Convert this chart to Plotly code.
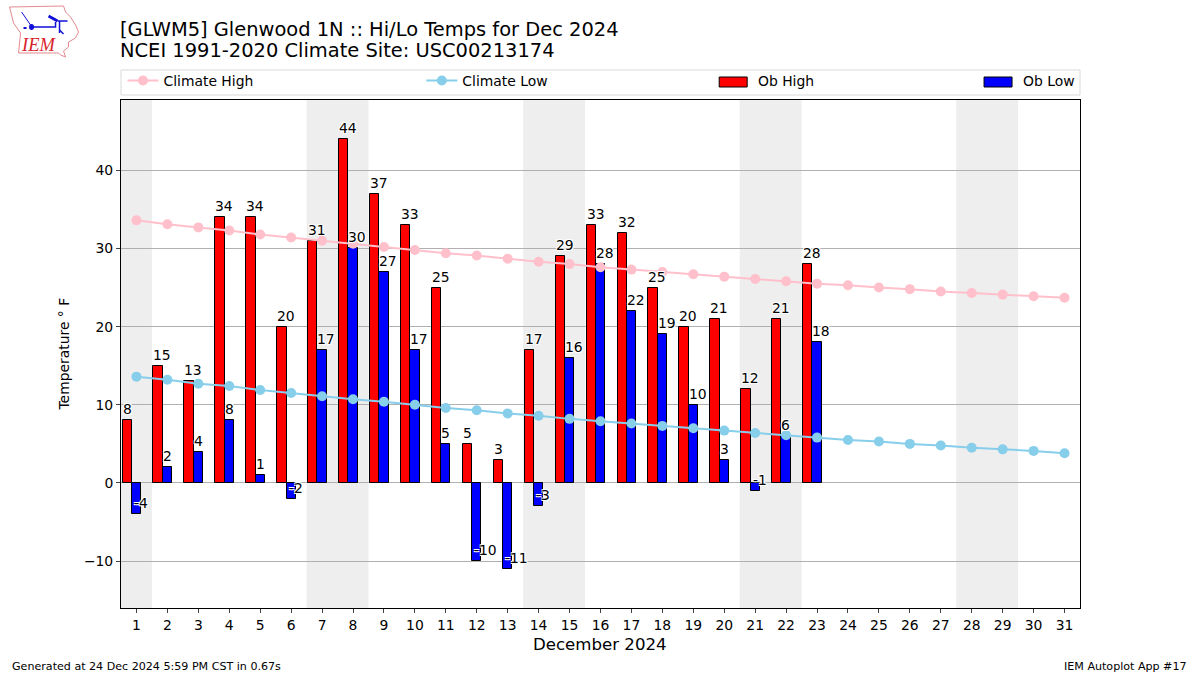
import plotly.graph_objects as go

W, H = 1200, 675
L, R, T, B = 120.5, 1080, 100, 608

days = list(range(1, 32))
climate_high = [33.6,33.1,32.7,32.3,31.8,31.4,31.0,30.6,30.2,29.8,29.4,29.1,28.7,28.3,28.0,27.6,27.3,27.0,26.7,26.4,26.1,25.8,25.5,25.3,25.0,24.8,24.5,24.3,24.1,23.9,23.7]
climate_low = [13.6,13.2,12.7,12.4,11.9,11.5,11.1,10.7,10.4,10.0,9.6,9.3,8.9,8.6,8.2,7.9,7.6,7.3,7.0,6.7,6.4,6.1,5.8,5.5,5.3,5.0,4.8,4.5,4.3,4.1,3.8]
ob_days = list(range(1, 24))
ob_high = [8,15,13,34,34,20,31,44,37,33,25,5,3,17,29,33,32,25,20,21,12,21,28]
ob_low = [-4,2,4,8,1,-2,17,30,27,17,5,-10,-11,-3,16,28,22,19,10,3,-1,6,18]
weekends = [(0.5,1.5),(6.5,8.5),(13.5,15.5),(20.5,22.5),(27.5,29.5)]

FONT = "DejaVu Sans"
def px(x): return (x - L) / (R - L)
def py(y): return (B - y) / (B - T)

fig = go.Figure()
fig.add_bar(x=ob_days, y=ob_high, name="Ob High", width=0.3, offset=-0.45, showlegend=False,
            marker=dict(color="#ff0000", line=dict(color="black", width=1)))
fig.add_bar(x=ob_days, y=ob_low, name="Ob Low", width=0.3, offset=-0.15, showlegend=False,
            marker=dict(color="#0000ff", line=dict(color="black", width=1)))
fig.add_scatter(x=days, y=climate_high, name="Climate High", mode="lines+markers",
                line=dict(color="#ffc0cb", width=2), marker=dict(color="#ffc0cb", size=10), legend="legend")
fig.add_scatter(x=days, y=climate_low, name="Climate Low", mode="lines+markers",
                line=dict(color="#87ceeb", width=2), marker=dict(color="#87ceeb", size=10), legend="legend2")

halo = "-1px -1px 0 #fff, 1px -1px 0 #fff, -1px 1px 0 #fff, 1px 1px 0 #fff"
anns = []
for off, vals in ((-0.45, ob_high), (-0.15, ob_low)):
    for d, v in zip(ob_days, vals):
        anns.append(dict(x=d + off, y=v, xref="x", yref="y", text=str(v), showarrow=False,
                         xanchor="left", yanchor="bottom", yshift=2, xshift=-1 if v >= 0 else 1, borderpad=0,
                         font=dict(family=FONT, size=13.9, color="black", shadow=halo)))
def label(x, y, text, size, xa="left", ya="middle", **kw):
    anns.append(dict(x=px(x), y=py(y), xref="paper", yref="paper", text=text, showarrow=False,
                     xanchor=xa, yanchor=ya, borderpad=0, font=dict(family=FONT, size=size, color="black"), **kw))
label(118, 29, "[GLWM5] Glenwood 1N :: Hi/Lo Temps for Dec 2024", 19.45)
label(118, 50.5, "NCEI 1991-2020 Climate Site: USC00213174", 19.45)
label(600, 644, "December 2024", 16.6, xa="center")
label(63, 354, "Temperature ° F", 13.9, xa="center", textangle=-90)
label(10, 666, "Generated at 24 Dec 2024 5:59 PM CST in 0.67s", 11.1)
label(1188, 666, "IEM Autoplot App #17", 11.1, xa="right")
label(757, 81, "Ob High", 13.9)
label(1022, 81, "Ob Low", 13.9)
anns.append(dict(x=px(37.5), y=py(45), xref="paper", yref="paper", text="<i>IEM</i>", showarrow=False,
                 xanchor="center", yanchor="middle", font=dict(family="Liberation Serif", size=18.5, color="#d8232a")))

shapes = [dict(type="rect", x0=a, x1=b, yref="paper", y0=0, y1=1, xref="x", layer="below",
               fillcolor="#eeeeee", line_width=0) for a, b in weekends]
shapes.append(dict(type="rect", xref="paper", yref="paper", x0=px(120.5), x1=px(1080), y0=py(95), y1=py(70),
                   fillcolor="white", line=dict(color="#d9d9d9", width=1), layer="above"))
for x0, c in ((719, "#ff0000"), (984, "#0000ff")):
    shapes.append(dict(type="rect", xref="paper", yref="paper", x0=px(x0), x1=px(x0 + 28), y0=py(87), y1=py(77),
                       fillcolor=c, line=dict(color="black", width=1), layer="above"))

def pth(points):
    return "M" + " L".join(f"{px(x):.5f},{py(y):.5f}" for x, y in points)
# logo
outline = [(9,7),(63,6),(65,12),(70,17),(75,25),(78,32),(75,38),(68,42),(68,47),(63,51),(65,57),(60,55),(58,53),(18,53),(20,33),(13,23),(9,7)]
shapes.append(dict(type="path", xref="paper", yref="paper", path=pth(outline) + " Z",
                   line=dict(color="#e58a90", width=1), layer="above"))
for seg, w in [([(31,27),(55,27),(55,22)],1.5),([(48,16),(57,21)],3),([(57,21),(67,21)],1.5),([(59,21),(59,33)],1.5),
               ([(21,12),(30,25)],1),([(23,28),(26,28)],2),([(59,30),(63,34)],1.5)]:
    shapes.append(dict(type="path", xref="paper", yref="paper", path=pth(seg),
                       line=dict(color="#1010d8", width=w), layer="above"))
shapes.append(dict(type="circle", xref="paper", yref="paper", x0=px(28.5), x1=px(33.5), y0=py(30), y1=py(24),
                   fillcolor="#1010d8", line_width=0, layer="above"))

def lg(x):
    return dict(x=px(x), y=py(81), xanchor="left", yanchor="middle", orientation="h", bgcolor="rgba(0,0,0,0)",
                borderwidth=0, font=dict(family=FONT, size=13.9), itemwidth=31, tracegroupgap=0)

fig.update_layout(
    width=W, height=H, autosize=False, margin=dict(l=L, r=W-R, t=T, b=H-B),
    paper_bgcolor="white", plot_bgcolor="white", barmode="overlay", bargap=0,
    font=dict(family=FONT, size=13.9, color="black"), showlegend=True,
    legend=lg(122), legend2=lg(421),
    annotations=anns, shapes=shapes,
    xaxis=dict(range=[0.5, 31.5], tickmode="array", tickvals=days, ticks="outside", ticklen=4, tickwidth=1,
               showgrid=False, zeroline=False, showline=True, mirror=True, linecolor="black", linewidth=1),
    yaxis=dict(range=[-16, 49], tickmode="array", tickvals=[-10,0,10,20,30,40], ticks="outside", ticklen=4, tickwidth=1,
               showgrid=True, gridcolor="#b0b0b0", gridwidth=1, zeroline=False, showline=True, mirror=True,
               linecolor="black", linewidth=1),
)
fig.write_html("out.html", config={"displayModeBar": False}, post_script="document.body.style.margin='0';")
